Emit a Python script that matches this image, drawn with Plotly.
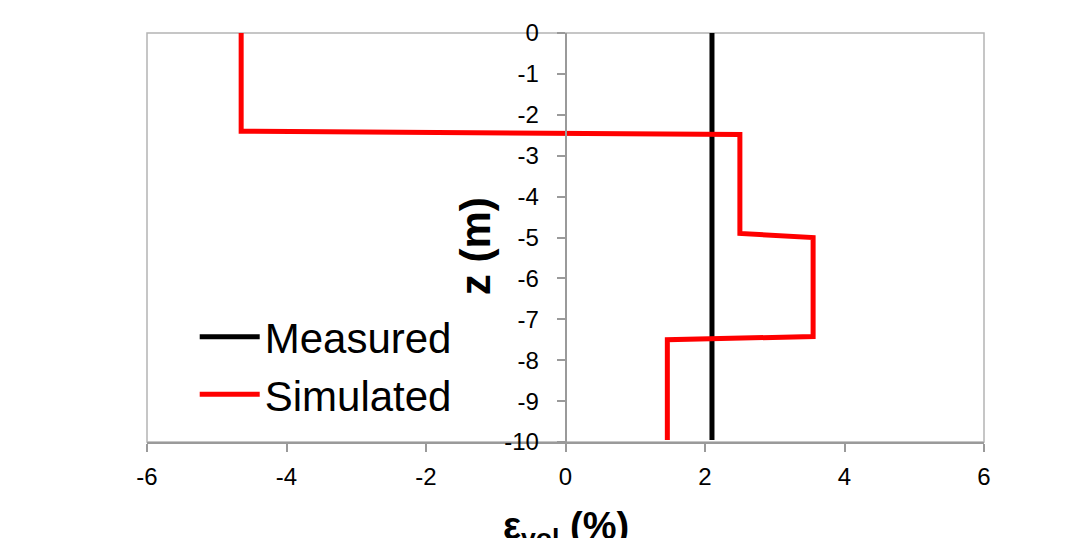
import plotly.graph_objects as go

# Data
measured_x = [2.10, 2.10]
measured_z = [0, -9.95]
simulated_x = [-4.65, -4.65, 2.50, 2.50, 3.55, 3.55, 1.46, 1.46]
simulated_z = [0, -2.40, -2.48, -4.90, -5.00, -7.42, -7.50, -9.95]
x_ticks = [-6, -4, -2, 0, 2, 4, 6]
z_ticks = [0, -1, -2, -3, -4, -5, -6, -7, -8, -9, -10]

FONT = "Liberation Sans, Arial, sans-serif"
AX = "#9a9a9a"

fig = go.Figure()
fig.add_trace(go.Scatter(x=measured_x, y=measured_z, mode="lines", name="Measured",
                         line=dict(color="black", width=5)))
fig.add_trace(go.Scatter(x=simulated_x, y=simulated_z, mode="lines", name="Simulated",
                         line=dict(color="#ff0000", width=5)))

fig.update_layout(
    width=1077, height=530,
    margin=dict(l=139, r=101, t=25, b=96),
    paper_bgcolor="white", plot_bgcolor="white",
    font=dict(family=FONT, color="black", size=24),
    showlegend=True,
    legend=dict(x=0.057, y=0.186, xanchor="left", yanchor="middle",
                font=dict(size=42, family=FONT), bgcolor="rgba(0,0,0,0)",
                tracegroupgap=0, itemwidth=60),
    xaxis=dict(range=[-6, 6], tickvals=x_ticks, ticktext=[str(v) for v in x_ticks],
               showgrid=False, zeroline=False, showline=True, linecolor=AX, linewidth=1.5,
               ticks="outside", ticklen=8, tickcolor=AX, tickwidth=1.5,
               tickfont=dict(size=24), ticklabelstandoff=4, domain=[0, 1]),
    yaxis=dict(range=[-10, 0], tickvals=z_ticks, ticktext=[str(v) for v in z_ticks],
               showgrid=False, zeroline=False, showline=True, linecolor=AX, linewidth=1.5,
               ticks="outside", ticklen=8, tickcolor=AX, tickwidth=1.5,
               tickfont=dict(size=24), anchor="free", position=0.5, side="left",
               ticklabelstandoff=13),
    shapes=[dict(type="rect", xref="x domain", yref="y domain", x0=0, x1=1, y0=0, y1=1,
                 line=dict(color="#b4b4b4", width=1.5), layer="below")],
    annotations=[
        dict(text="<b>z (m)</b>", textangle=-90, xref="paper", yref="paper",
             x=0.392, y=0.479, xanchor="center", yanchor="middle", showarrow=False,
             font=dict(size=42, family=FONT)),
        dict(text="<b>ε<sub>vol</sub> (%)</b>", xref="paper", yref="paper",
             x=0.5, y=-0.15, xanchor="center", yanchor="top", showarrow=False,
             font=dict(size=38, family=FONT)),
    ],
)

fig.write_html("out.html")
